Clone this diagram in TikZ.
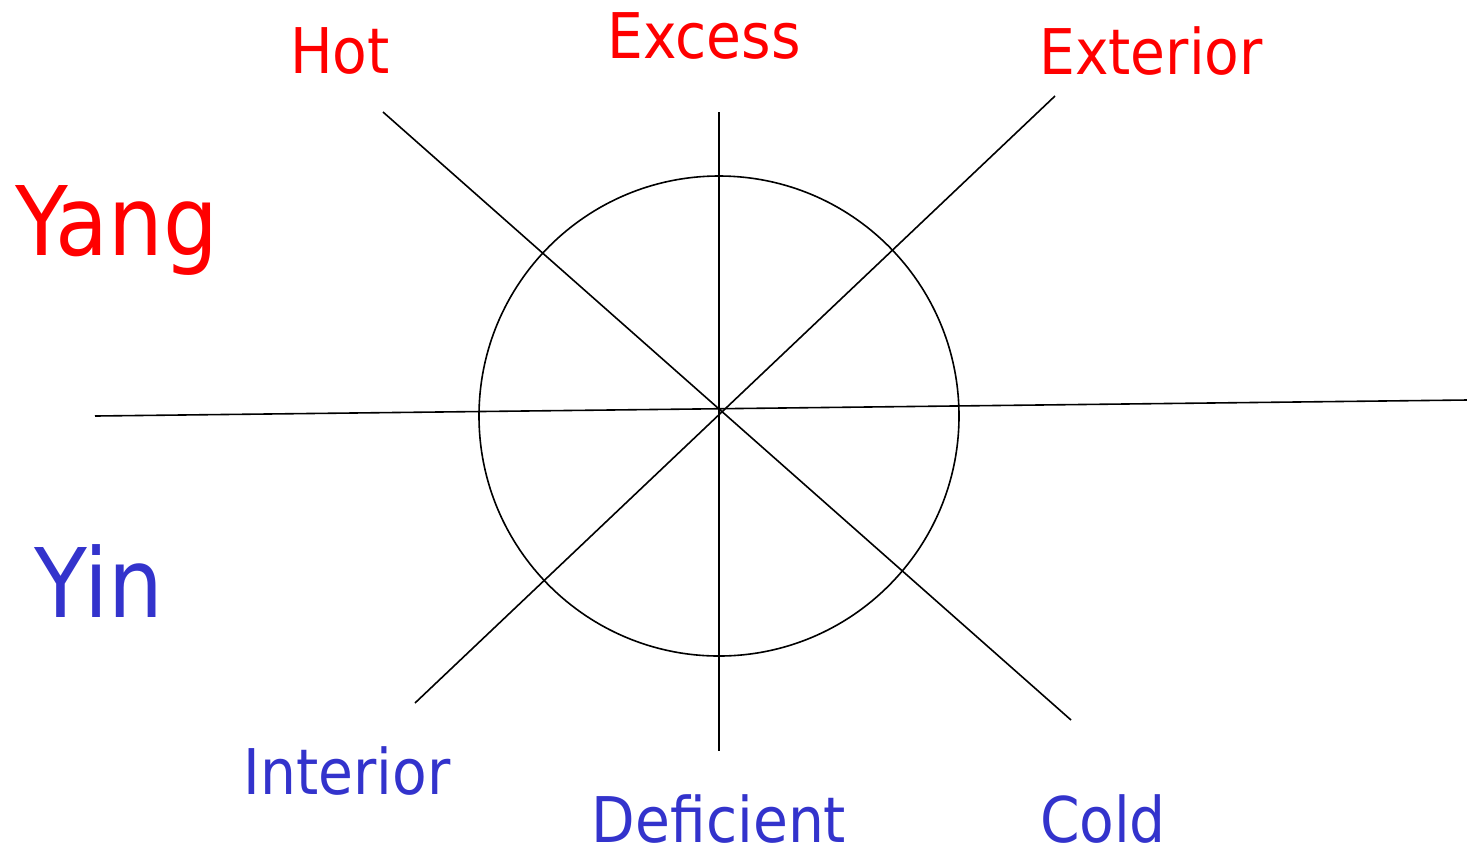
\documentclass[tikz,border=0pt]{standalone}
\usepackage{fontspec}
\setmainfont{DejaVu Sans Condensed}
\usepackage{tikz}
\usetikzlibrary{positioning}
\definecolor{YangRed}{HTML}{FF0000}
\definecolor{YinBlue}{HTML}{3333CC}

\begin{document}
\begin{tikzpicture}[
  x=0.5pt, y=-0.5pt,
  lbl/.style={anchor=base,inner sep=0pt,font=\fontsize{31.5}{34}\selectfont},
  big/.style={anchor=base,inner sep=0pt,font=\fontsize{48}{52}\selectfont},
  axis/.style={black,line width=0.8pt}
]
\useasboundingbox (0,0) rectangle (1467,859);
% the circle and its axes
\coordinate (c) at (719,416);
\draw[axis] (c) circle[radius=120pt];
\coordinate (up) at (719,112);    \coordinate (down) at (719,751);
\coordinate (west) at (95,416);   \coordinate (east) at (1467,400);
\coordinate (nw) at (383,112);    \coordinate (se) at (1071,720);
\coordinate (ne) at (1055,96);    \coordinate (sw) at (415,703);
\draw[axis] (up)--(down); \draw[axis] (west)--(east);
\draw[axis] (nw)--(se); \draw[axis] (ne)--(sw);
% labels
\node[lbl,YangRed] (hot) at (340,73) {Hot};
\node[lbl,YangRed] (excess) at (704,58) {Excess};
\node[lbl,YangRed] (exterior) at (1151,74) {Exterior};
\node[big,YangRed] (yang) at (117,255) {Yang};
\node[big,YinBlue] (yin) at (99,617) {Yin};
\node[lbl,YinBlue] (interior) at (347,794) {Interior};
\node[lbl,YinBlue] (deficient) at (719,842) {Deficient};
\node[lbl,YinBlue] (cold) at (1103,842) {Cold};
\end{tikzpicture}
\end{document}
